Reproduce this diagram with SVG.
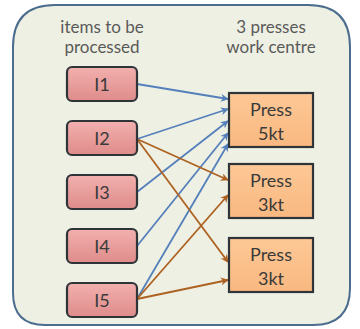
<svg xmlns="http://www.w3.org/2000/svg" width="360" height="329" viewBox="0 0 360 329">
<defs>
<linearGradient id="gItem" x1="0" y1="0" x2="0" y2="1">
<stop offset="0" stop-color="#f2b0ae"/><stop offset="1" stop-color="#de8c8a"/>
</linearGradient>
<linearGradient id="gPress" x1="0" y1="0" x2="0" y2="1">
<stop offset="0" stop-color="#fdc896"/><stop offset="1" stop-color="#f9b880"/>
</linearGradient>
<marker id="aB" viewBox="0 0 10 10" refX="9" refY="5" markerWidth="9" markerHeight="8" markerUnits="userSpaceOnUse" orient="auto">
<path d="M0,0 L10,5 L0,10 L3,5 Z" fill="#5580bb"/>
</marker>
<marker id="aO" viewBox="0 0 10 10" refX="9" refY="5" markerWidth="9" markerHeight="8" markerUnits="userSpaceOnUse" orient="auto">
<path d="M0,0 L10,5 L0,10 L3,5 Z" fill="#ad6222"/>
</marker>
</defs>
<style>
.frame{fill:#eef0e3;stroke:#4d6d8f;stroke-width:2}
.item{fill:url(#gItem);stroke:#2f3438;stroke-width:2.2}
.press{fill:url(#gPress);stroke:#2f3438;stroke-width:2.2}
.hdr{font-family:Lato,"Open Sans","Liberation Sans",sans-serif;font-size:17px;fill:#5a5a5a;text-anchor:middle}
.lbl{font-family:Lato,"Open Sans","Liberation Sans",sans-serif;font-size:18px;fill:#3a3a3a;text-anchor:middle}
.b{stroke:#5580bb;stroke-width:1.8;fill:none;marker-end:url(#aB)}
.o{stroke:#ad6222;stroke-width:1.8;fill:none;marker-end:url(#aO)}
</style>
<rect width="360" height="329" fill="#ffffff"/>
<path class="frame" d="M55,5 H308 Q350,5 350,47 V288 Q350,325 313,325 H45 Q13,325 13,293 V47 Q13,5 55,5 Z"/>
<text class="hdr" x="102" y="33">items to be</text>
<text class="hdr" x="102" y="53">processed</text>
<text class="hdr" x="271" y="33">3 presses</text>
<text class="hdr" x="271" y="53">work centre</text>
<g id="connectors">
<line class="b" x1="137" y1="84" x2="228" y2="99"/>
<line class="b" x1="137" y1="139" x2="228" y2="109"/>
<line class="b" x1="137" y1="192" x2="228" y2="121"/>
<line class="b" x1="137" y1="246" x2="228" y2="133"/>
<line class="b" x1="137" y1="299" x2="228" y2="144"/>
<line class="o" x1="137" y1="139" x2="228" y2="180"/>
<line class="o" x1="137" y1="139" x2="228" y2="262"/>
<line class="o" x1="137" y1="299" x2="228" y2="195"/>
<line class="o" x1="137" y1="299" x2="228" y2="280"/>
</g>
<g id="I1"><rect class="item" x="67" y="67" width="70" height="34" rx="5"/><text class="lbl" x="102" y="91">I1</text></g>
<g id="I2"><rect class="item" x="67" y="121" width="70" height="34" rx="5"/><text class="lbl" x="102" y="145">I2</text></g>
<g id="I3"><rect class="item" x="67" y="175" width="70" height="34" rx="5"/><text class="lbl" x="102" y="199">I3</text></g>
<g id="I4"><rect class="item" x="67" y="229" width="70" height="34" rx="5"/><text class="lbl" x="102" y="253">I4</text></g>
<g id="I5"><rect class="item" x="67" y="283" width="70" height="34" rx="5"/><text class="lbl" x="102" y="307">I5</text></g>
<g id="P1"><rect class="press" x="229" y="93" width="84" height="54"/><text class="lbl" x="271" y="116">Press</text><text class="lbl" x="271" y="140">5kt</text></g>
<g id="P2"><rect class="press" x="229" y="164" width="84" height="54"/><text class="lbl" x="271" y="187">Press</text><text class="lbl" x="271" y="211">3kt</text></g>
<g id="P3"><rect class="press" x="229" y="238" width="84" height="54"/><text class="lbl" x="271" y="261">Press</text><text class="lbl" x="271" y="285">3kt</text></g>
</svg>
